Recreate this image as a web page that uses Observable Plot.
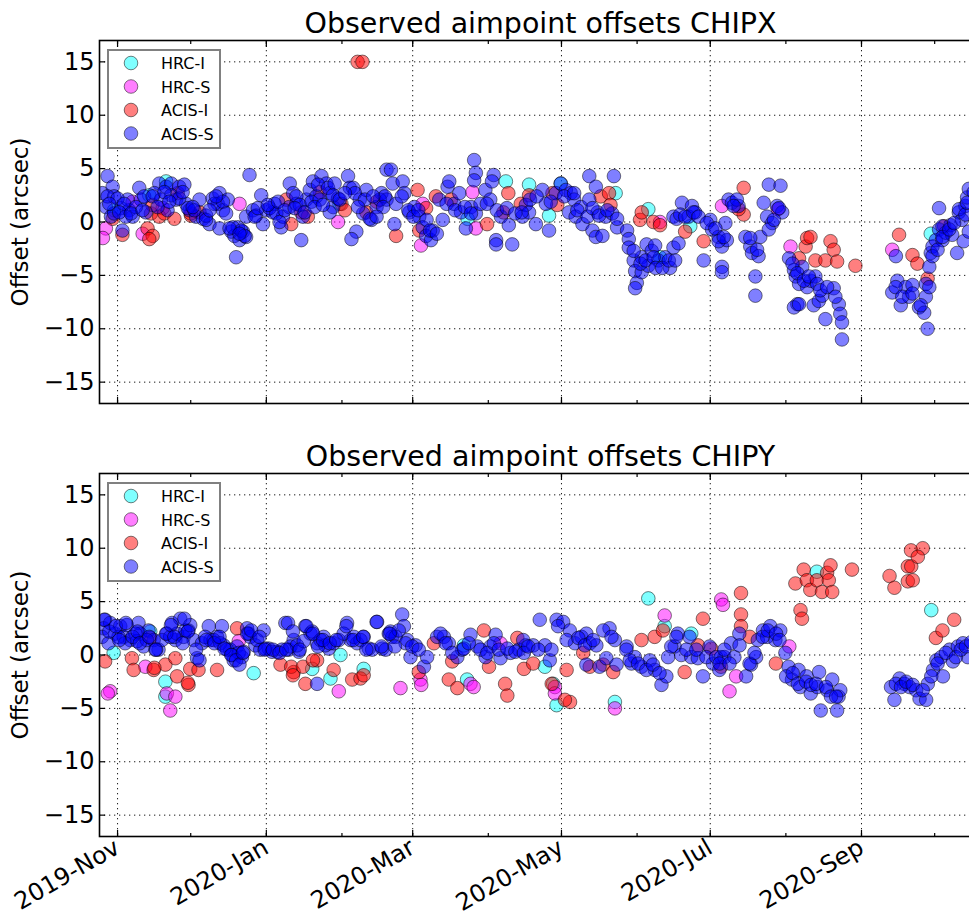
<!DOCTYPE html>
<html>
<head>
<meta charset="utf-8">
<script src="https://cdn.jsdelivr.net/npm/d3@7"></script>
<script src="https://cdn.jsdelivr.net/npm/@observablehq/plot@0.6"></script>
<style>
  html, body { margin: 0; padding: 0; background: #fff; overflow: hidden; }
  #wrap { position: relative; width: 969px; height: 919px; overflow: hidden; background: #fff; }
  .panel { position: absolute; left: 0; max-width: none !important; }
  .legend { position: absolute; }
</style>
</head>
<body>
<div id="wrap"></div>
<script>
// ---------- DATA (day offset from 2019-11-01, offset in arcsec) ----------
const instruments = ["HRC-I", "HRC-S", "ACIS-I", "ACIS-S"];
const instrumentColors = ["#00ffff", "#ff00ff", "#ff0000", "#0000ff"];
const yTickValues = [-15, -10, -5, 0, 5, 10, 15];
const panelTitles = ["Observed aimpoint offsets CHIPX", "Observed aimpoint offsets CHIPY"];
const yLabel = "Offset (arcsec)";
const xRangeDays = [-7.4, 354.2];

const chipxHrcI = [[-1.4,1.1],[19.9,3.8],[13,2.5],[91,1.7],[159.2,3.8],[168.7,3.5],[176.9,0.6],[181.7,3.6],[204.2,2.7],[217.6,1.2],[143.5,0.3],[222.4,-3.3],[333.4,-1.1],[234.8,-0.4]];
const chipxHrcS = [[-4.8,-0.6],[-6,-1.5],[10.3,-1.1],[50,1.7],[90.4,0],[6.2,1.9],[18.5,1.3],[125.1,1.7],[145.5,2.8],[124.4,-2.2],[146.9,-0.6],[222.4,0],[275.9,-2.3],[247.8,1.5],[317.6,-2.6],[270.7,1.2]];
const chipxAcisI = [[13.7,0.8],[12.3,-0.6],[14.4,-1.3],[13,-1.6],[17.1,0.5],[19.2,0.8],[23.3,0.3],[24.7,2.7],[30.1,0.6],[33.6,0.9],[2,-1.2],[-2,0.3],[14.3,1.6],[30,0.8],
  [69.2,2.1],[71.2,-0.2],[75.3,0.9],[78,0.5],[82.9,2.8],[91.8,1.7],[93.2,1.1],[102,0.9],[106.2,1.9],[98.4,15],[100.4,15],
  [114.2,-1.3],[123,3],[126.5,1.3],[123.7,-0.8],[130.5,2.4],[136.7,2.1],[151.5,-0.2],[158.2,0.9],[160.2,2.7],[165.3,1.7],[168.7,2.5],[178.3,2.7],[180.3,1.6],[198.1,2.4],[201.5,2.7],[202.1,1.6],[214.2,0.2],[214.9,0.9],[219.7,0],[222.4,-0.3],
  [256.7,3.2],[256.7,0.7],[254.6,1.2],[240.3,-1.8],[232.7,-0.9],[279.4,-3.4],[282.1,-2.3],[282.7,-1.5],[284.1,-1.4],[286.1,-3.6],[290.2,-3.6],[292.3,-1.8],[293.6,-2.6],[295,-3.7],[302.5,-4.1],[320.4,-1.2],[325.9,-3.1],[327.9,-3.9],[332.1,-5.3],[338.9,-0.4]];
const chipxAcisS = [
  [-4.1,4.3],[-6.2,2.7],[-2,3.3],[-1.4,2.4],[-4.8,1.4],[-2.7,0.5],[2,-0.8],[1.4,1.3],[4.8,1.1],[4.1,2.1],[6.2,0.5],[8.9,3.2],[9.6,2.1],[11.6,0.9],[17.1,3.6],[19.9,3.3],[22,3.6],[25.3,3.3],[27.4,3.5],[24,2.1],[20.5,1.1],[22,2.5],[28.1,1.7],[29.5,1.1],[33.6,2.1],[32.2,0.5],[35,0.3],[37.7,-0.2],[36.3,0.6],[39,2.2],[41.1,1.7],[41.8,2.7],[43.2,1.1],[45.2,2.1],[41.8,-0.6],[46.6,-0.9],[47.9,-1.3],[48.6,-3.3],[50,-1.7],[51.4,-0.9],[52.7,-1.4],[49.3,-0.5],[54.1,4.4],[52.7,0.5],[55.5,1.1],[56.8,0.6],[58.9,2.5],[59.6,-0.2],[61,1.1],[63.7,0.9],[64.4,1.7],[67.1,-0.5],[67.8,0.5],[70.6,3.6],[72,2.7],[70.4,1.4],[73.3,1.7],[75.3,-1.7],[76,0.5],[77.4,2.1],[78.8,3],[80.1,3.8],[81.5,2.4],[83.6,4.3],[85.6,3.6],[87,2.7],[88.4,1.4],[90.4,2.2],[87,0.9],[94.5,4.3],[95.2,3.2],[97.9,-0.9],[95.9,-1.6],[99.3,2.1],[100.7,0.8],[102,3],[104.1,0.2],[106.2,1.4],[108.2,2.7],[110.3,4.9],[110.3,2.1],
  [-4.1,2.4],[0,2.2],[-1.4,0.8],[3.4,0.5],[2.7,1.7],[7.5,1.4],[10.9,2.4],[15.1,2.7],[17.8,2.1],[19.2,2.8],[25.3,2.2],[28.8,1.3],[31.5,1.1],[36.3,0.2],[39.7,1.7],[43.2,1.9],[44.5,0.8],[47.3,-0.5],[50.7,-0.8],[52.1,-1.3],[56.2,0.5],[57.5,1.3],[62.3,1.3],[65.1,0.8],[66.4,0],[73.3,2.4],[74.7,1.6],[79.5,1.9],[82.2,3.5],[82.9,2.1],[86.3,3.2],[89,3.6],[88.4,2.5],[96.6,3.2],[97.3,2.7],[101.4,2.1],[103.4,0.3],[107.5,2.1],[109.6,2.4],
  [-3.4,1.7],[0.7,0.9],[5.5,0.8],[10.3,1.1],[14.4,2.4],[16.4,1.4],[21.2,1.9],[26.7,2.8],[30.8,1.4],[37.7,1.1],[40.4,2.4],[45.9,-0.6],[50,-1.1],[61.6,1.6],[65.8,1.9],[68.5,1.1],[72.6,1.3],[76.7,0.9],[80.8,1.4],[84.2,1.6],[91.1,2.1],[93.2,2.7],[98.6,1.4],[104.8,2.4],[108.9,1.4],[106.2,0.5],
  [112.1,4.9],[112.8,3.6],[116.9,3.8],[117.6,2.7],[114.2,1.7],[113.5,-0.2],[119.6,0.9],[121.7,1.4],[123.7,0.5],[125.1,-0.5],[126.5,-1.3],[128.5,-1.7],[129.2,-0.8],[133.3,0.2],[131.9,2.1],[135.3,3.3],[136,3.8],[138,1.7],[140.1,2.7],[140.8,0.9],[142.8,-0.6],[146.2,5.8],[146.9,4.6],[146.2,3.9],[144.9,1.4],[146.9,0.8],[148.8,1.7],[150.8,3],[152.8,2.1],[154.2,4.4],[153.5,3.8],[155.2,-1.7],[155.2,-2.1],[157.2,0.5],[160.4,-0.3],[161.8,-2.1],[166,0.5],[167.4,1.6],[168.7,0.9],[171.5,-0.2],[174.2,3],[175.6,1.7],[176.9,-0.8],[179.7,2.7],[181.7,3.6],[183.8,3],[185.8,2.7],[187.2,2.1],[185.1,0.9],[187.8,0.5],[190,1.4],[190.6,-0.2],[193.4,4.3],[196.1,3.3],[193.4,2.1],[194.7,-0.8],[196.1,-1.4],[198.8,-1.3],[196.8,0.9],[200.1,0.5],[203.5,4.3],[202.8,0.8],[204.8,-0.5],[208.9,-0.8],[209.6,-1.6],[209.6,-2.4],[211.6,-3.6],[212.2,-4.6],[212.9,-5.7],[212.2,-6.2],[214.9,-3.3],[216.9,-2.1],[219,-2.7],[220.4,-2.2],[221.7,-3.6],[224.5,-3.3],[226.5,-4.3],[227.9,-2.4],[227.9,0.5],[229.2,0.3],[214.9,-4.7],[217.6,-4.1],
  [116.5,2.4],[119.2,1.1],[121.3,0.5],[123.3,1.1],[126.7,0.2],[128.1,-0.8],[130.9,-1.1],[134.9,1.7],[138.4,1.1],[142.4,1.4],[144.9,0.8],[151.4,1.7],[155.5,1.1],[159.6,1.3],[163,0.8],[165.7,0.9],[169.1,2.1],[171.8,2.4],[177.6,1.9],[183.1,2.4],[187.2,2.7],[188.5,1.1],[192.7,0.5],[194.7,1.3],[197.4,0.6],[200.8,1.1],[204.8,0.3],[211.6,-2.7],[214.4,-3.9],[216.5,-3.6],[219.8,-3.3],[220.6,-4.3],[223.3,-4.3],[226,-3.6],[228.6,-3.6],
  [231.4,1.8],[230.7,0.7],[230,-2],[235.5,1.5],[234.1,0.5],[236.8,0.9],[240.3,-3.6],[243,0.2],[243.7,-0.7],[246.4,-1.4],[247.8,-2.3],[247.8,-4.2],[247.8,-4.7],[249.2,-0.1],[249.8,-1.7],[250.5,2.1],[251.9,1.8],[254.6,1.5],[257.4,-1.4],[259.4,-2.3],[260.1,-2.9],[262.8,-3.2],[261.5,-5.1],[261.5,-6.9],[264.9,1.8],[267,3.5],[271.8,3.4],[266.3,0.5],[268.4,-0.1],[270.4,1.5],[263.5,-1.4],[272.5,0.9],[275.3,-3.4],[277.3,-4.5],[278,-5.1],[279.4,-5.8],[278.7,-7.7],[277.3,-8],[280.7,-4.2],[282.7,-6.1],[284.1,-5.5],[286.1,-5.1],[285.4,-7.8],[287.5,-7.4],[288.9,-6.9],[290.2,-9.1],[293.6,-6.2],[295.7,-7.7],[296.3,-8.6],[297,-9.4],[297,-11],[317.6,-6.6],[319.7,-5.5],[321.1,-7.8],[323.1,-6.1],[324.5,-7],[325.9,-5.9],[328.6,-8],[330.7,-8.5],[331.4,-7],[332.1,-10],[331.4,-5.8],[332.8,-4.2],[333.4,-2.9],[334.1,-2.3],[335.5,-1.7],[336.8,-0.7],[336.8,1.3],[338.2,-1.7],[339.5,-1],[341.5,-0.3],[342.2,-1.2],[344.2,-2.9],[344.9,0.9],[346.2,0.2],[346.9,-1.8],[347.6,1.5],[348.3,2.3],[349,3.1],[349,-0.9],[319.1,-3.2],[338.2,-0.4],
  [232.7,0.5],[236.1,0.9],[238.2,0.5],[241.6,-0.1],[245.1,-0.6],[246.4,-1.8],[248.5,-1.4],[253.9,2.1],[252.6,1.5],[259.4,-1.5],[262.2,-2.6],[267,-0.7],[269.1,0.2],[271.2,1.3],[276.7,-3.9],[278.7,-4.8],[281.4,-5.5],[283.4,-5.1],[286.8,-5.8],[288.1,-6.4],[290.9,-6.1],[279.4,-7.7],[294.3,-7],[319,-6.1],[321.7,-7],[325.9,-6.7],[329.3,-7.8],[332.8,-6.1],[334.1,-3.2],[336.2,-2.6],[338.2,-1.4],[341,-0.7],[343,-0.1],[345,1.2],[347.6,0.7],[348.3,1.8],[351,2.8],[353,2.2]];

const chipyHrcI = [[-1.6,0.2],[13.4,2.2],[19.6,-2.5],[19.6,-3.9],[55.8,-1.7],[79.8,-1.3],[87.3,-2.2],[91.4,0],[100.9,-1.3],[143.3,-2.3],[142,0.9],[175.2,-1.1],[178.6,-2.7],[180,-4.7],[217.6,5.3],[224.3,2.7],[235.2,2],[203.9,-4.4],[286.7,7.8],[333.6,4.2]];
const chipyHrcS = [[-3,-3.4],[-4,-3.6],[11.4,-1.1],[20.2,-3.6],[21.6,-5.2],[23.7,-3.9],[49.7,1.3],[90.7,-3.4],[116,-3.1],[124.2,-2.3],[124.5,-2.8],[144.7,-2.7],[146,-3],[157,1.1],[179.3,-3],[179.3,-3.6],[224.3,3.7],[247.5,5.2],[248.2,4.7],[253.6,-2],[250.9,-3.4],[275.4,0.8],[203.9,-5]];
const chipyAcisI = [[-5.1,-0.6],[5.9,-0.3],[6.6,-1.4],[13.4,1.6],[14.8,-1.4],[19.6,-0.9],[23.7,-0.3],[24.4,-2],[29.1,-2.8],[29.8,-1.3],[33.2,-1.4],[40.8,-1.4],[49,2.5],[66.8,-0.9],[72.2,-1.6],[77,-2.7],[81.8,-0.5],[88.6,-1.4],[96.2,-2.3],[99.6,-2.2],[100.9,-1.9],[123.5,-1.6],[129.7,1.1],[135.8,-2.3],[139.3,-3.1],[137.2,-0.6],[150.2,2.3],[152.3,-1.1],[158.9,-2.7],[159.8,-3.8],[163.9,1.6],[166.6,-1.3],
  [71.2,-1.1],[76,-1.1],[80.1,-0.5],[71.9,-1.9],[28.8,-2.6],[15.1,-1.2],
  [170.4,-0.8],[178,-2.7],[184.1,-1.4],[185.5,-4.4],[183.4,-4.2],[190.9,0.2],[193.6,-1.1],[199.1,-0.9],[203.2,-1.6],[214.8,1.4],[220.2,1.7],[223.6,2.3],[232.5,-1.6],[238,0.9],[240,3.4],[243.4,0.6],[247.4,-1.1],[255.6,5.8],[255.6,3.8],[255.6,2.7],[259.2,1.7],[269.9,-0.8],[280,4.2],[280.6,3.4],[277.9,6.7],[281.3,8],[282.6,7],[284,6.1],[286.7,7],[288.8,5.9],[290.9,7.7],[292.3,8.4],[291.6,7],[293,5.9],[301.1,8],[316.5,7.4],[318.5,6.3],[324,6.9],[326,7],[324,8.3],[325.4,8.3],[325.3,9.8],[330.1,10],[328.1,9.2],[335.5,1.6],[338.2,2.3],[343,3.3]];
const chipyAcisS = [
  [-5.1,3.3],[-5.7,2.5],[-3,3],[-1,2],[1.1,2.7],[2.5,1.7],[3.8,2.8],[5.2,1.4],[8.6,3],[9.3,2],[10.7,0.8],[12.7,2.3],[14.8,1.4],[16.8,0.5],[20.2,2],[22.3,3],[23.7,1.4],[25.7,3.4],[27.1,1.7],[29.1,2.3],[31.2,1.4],[32.6,-0.3],[34.6,1.1],[37.4,2.7],[38.1,1.4],[40.8,1.7],[42.8,2.7],[43.5,0.9],[46.2,0.5],[47.6,-0.5],[49,0.8],[51,-0.2],[53.1,2.5],[54.4,1.7],[56.5,0.9],[58.5,0.5],[59.9,2.3],[62,0.6],[65.4,0.3],[68.8,3],[70.2,0.5],[72.2,1.4],[74.3,0.3],[77,2.7],[79.1,2],[81.8,1.1],[81.8,-2.7],[84.5,1.7],[86.6,0.6],[88.6,1.1],[94.1,3],[95.5,1.4],[98.2,1.1],[100.9,1.7],[103,0.6],[106.4,3.1],[108.5,0.6],[111.2,2],[112.6,1.7],[116.7,3.8],[117.4,2.7],[118.8,1.4],[120.1,-0.2],[122.2,0.9],[125.6,-1.1],[126.9,-0.2],[131,1.7],[133.8,1.7],[135.8,1.1],[139.3,-0.2],[141.3,0.5],[144.7,1.9],[147.5,0.8],[150.9,-0.2],[152.9,0.8],[155,1.9],[157,-0.3],[161.1,0.2],[164.5,0.5],[167.3,0.9],
  [-6.4,1.7],[-3.7,1.1],[0.4,1.7],[3.1,1.1],[7.3,2],[8,1.3],[12,1.4],[15.5,0.5],[18.2,1.4],[21.6,1.7],[24.4,2],[27.8,2.3],[29.8,2.8],[35.9,1.7],[39.4,1.4],[42.1,1.1],[44.9,0.5],[47,0],[49.7,0.2],[51.7,0.3],[53.8,2],[57.2,1.4],[60.6,0.6],[63.3,0.3],[67.4,0.5],[70.9,0.8],[73.6,0.9],[76.3,1.3],[79.8,2.2],[83.2,1.4],[85.2,0.9],[90.7,1.4],[92.7,2],[96.9,1.7],[99.6,1.4],[104.4,0.5],[109.9,0.5],[111.9,2.2],[114,1.7],[115.3,2.3],[118.1,1.1],[120.8,0.8],[123.5,0.5],[132.4,2],[134.5,1.1],[137.2,0.2],[142,0.6],[144,1.1],[148.8,0.5],[151.6,0.2],[154.3,1.1],[156.3,0.5],[159.8,0.6],[163.1,0.3],[166.6,0.2],
  [-5.5,3.3],[-3.4,2.2],[-0.7,2.7],[0.7,1.4],[3.4,3],[6.2,1.7],[8.2,2.2],[9.1,1.1],[13,1.7],[15.8,0.5],[19.9,2],[21.9,2.8],[23.3,1.7],[27.4,3.4],[28.8,2.2],[26.7,1.1],[32.2,0.5],[33.6,-0.5],[36.3,1.4],[39.7,1.1],[41.8,1.7],[43.8,0.6],[46.6,0],[48.6,-0.5],[50,-0.9],[51.4,0.2],[53.2,2],[54.8,2.3],[58.2,1.7],[60.3,0.5],[63.7,0.5],[66.4,0.2],[69.9,3],[71.9,2.2],[69.2,0.5],[74.7,0.5],[77.4,2.7],[80.1,2],[82.2,0.8],[84.2,1.4],[87,1.1],[89.7,1.4],[93.8,2.7],[96.6,1.4],[100.7,1.7],[102,0.5],[106.2,3.1],[108.2,0.8],[111.6,2],[113.7,0.8],
  [166.3,1.4],[170.4,0.9],[173.1,3.3],[175.2,0.9],[177.2,-0.5],[180,3.3],[182.7,3.1],[185.4,2.3],[187.5,1.1],[190.2,1.7],[192.2,2],[193.6,1.1],[196.3,0.9],[192.2,-0.9],[197.6,-1.1],[200.4,-0.3],[201.7,2.5],[203.9,1.4],[204.6,-0.9],[208.7,0.8],[210.7,-0.8],[212.1,-0.2],[214.8,-1.1],[218.2,-0.5],[220.3,-1.4],[223,-2.8],[225,-2],[225.7,-0.2],[228.4,0.8],[229.7,2],[231.1,0],[234.5,1.7],[235.2,-0.2],[237.9,-0.3],[240,-2],[242.7,0.8],[244.1,-0.8],[246.7,-1.4],[247.4,-0.2],[248.8,-0.2],[251.5,1.1],[252.9,-0.2],[254.9,2],[257.7,-2],[259.7,-0.9],[261.8,-0.2],[262.5,1.4],[264.6,2.3],[266.3,1.7],[267.6,2.7],[269.7,1.4],[271.7,2.3],[273.8,0.2],[275.1,-1.1],[276.5,-2.3],[279.2,-1.4],[279.9,-3],[282.5,-2],[284.2,-3.6],[286.9,-3],[287.6,-1.6],[288.3,-5.2],[290.9,-3.3],[293,-2.3],[295,-5.2],[295.6,-3.9],[296.3,-3.3],[317.1,-3],[318.5,-4.2],[320.6,-2.2],[322.6,-2.7],[324.7,-3],[327.4,-3.3],[328.8,-4.1],[331.5,-4.2],[332.2,-2.7],[334.3,-1.4],[335.7,-0.5],[337.7,-0.2],[338.4,-2],[341.1,0.5],[342.5,-0.6],[344.5,0.8],[346.6,1.1],[348.6,-0.2],
  [168.4,0.8],[172.5,0.5],[177.9,0.5],[180.6,2.7],[184.1,1.4],[188.9,1.6],[191.6,0.9],[195,1.4],[199.1,2.3],[202.5,1.7],[208.6,0.5],[210,-0.5],[213.4,-0.8],[216.8,-1.4],[219.5,-0.9],[222.2,-1.7],[227,0.8],[229.1,1.7],[233.2,0.5],[237.3,0.5],[241.4,-0.2],[245.4,-0.2],[246.8,-0.8],[248.8,0.5],[250.9,-0.8],[255,0.9],[259.1,-0.8],[261.1,0.2],[264.5,1.7],[266.6,2.3],[270,2],[271.4,1.4],[274.1,-2],[276.8,-1.7],[278.9,-2.7],[282.3,-2.5],[284.3,-2.8],[286.3,-2.7],[290.4,-3],[292.5,-3.9],[294.6,-3.9],[319.1,-2.7],[321.2,-3],[323.3,-2.5],[326,-2.8],[330.1,-3.3],[333.6,-2],[336.2,-0.8],[339.6,0.2],[343.7,-0.2],[345.7,0.5],[347.8,0.8],[350,1.2],[352,0.9]];

const chipxSeries = [chipxHrcI, chipxHrcS, chipxAcisI, chipxAcisS];
const chipySeries = [chipyHrcI, chipyHrcS, chipyAcisI, chipyAcisS];

// ---------- BUILD ----------
const day0 = Date.UTC(2019, 10, 1);
const toDate = d => new Date(day0 + d * 864e5);
const xDomain = xRangeDays.map(toDate);
const majorTicks = d3.utcMonth.every(2).range(xDomain[0], xDomain[1]);
const minorTicks = d3.utcMonth.range(xDomain[0], xDomain[1]);
const FONT = "DejaVu Sans, Bitstream Vera Sans, sans-serif";
const wrap = document.getElementById("wrap");

function panel(title, series, showX, top) {
  const marginBottom = showX ? 83 : 7;
  const dotMarks = series.map((arr, i) =>
    Plot.dot(arr.map(([d, v]) => ({date: toDate(d), value: v})), {
      x: "date", y: "value", r: 6.8,
      fill: instrumentColors[i], fillOpacity: 0.5,
      stroke: "#000", strokeOpacity: 0.5, strokeWidth: 1, clip: true
    })
  );
  const chart = Plot.plot({
    width: 1000, height: 403 + marginBottom,
    marginLeft: 99, marginRight: 19, marginTop: 40, marginBottom,
    style: {fontFamily: FONT, fontSize: "24px", color: "#000", background: "transparent", overflow: "visible", maxWidth: "none"},
    x: {type: "utc", domain: xDomain},
    y: {domain: [-17, 17]},
    marks: [
      Plot.gridX({ticks: majorTicks, stroke: "#000", strokeOpacity: 0.9, strokeWidth: 1, strokeDasharray: "1.3,3.7"}),
      Plot.gridY({ticks: yTickValues, stroke: "#000", strokeOpacity: 0.9, strokeWidth: 1, strokeDasharray: "1.3,3.7"}),
      ...dotMarks,
      Plot.frame({stroke: "#000", strokeWidth: 1.6}),
      Plot.axisY({ticks: yTickValues, tickSize: 0, tickPadding: 5, fontSize: 24,
        label: null}),
      Plot.axisY({ticks: [], tickSize: 0, fontSize: 23,
        label: yLabel, labelAnchor: "center", labelArrow: "none", labelOffset: 88}),
      Plot.axisY({ticks: yTickValues, tickSize: 6, dx: 6, text: null, label: null, strokeWidth: 1.2}),
      Plot.axisX({anchor: "bottom", ticks: majorTicks, tickSize: 6, dy: -6, text: null, label: null, strokeWidth: 1.2}),
      Plot.axisX({anchor: "bottom", ticks: minorTicks, tickSize: 3, dy: -3, text: null, label: null, strokeWidth: 1.2}),
      Plot.axisX({anchor: "top", ticks: majorTicks, tickSize: 6, dy: 6, text: null, label: null, strokeWidth: 1.2}),
      Plot.axisX({anchor: "top", ticks: minorTicks, tickSize: 3, dy: 3, text: null, label: null, strokeWidth: 1.2}),
      showX
        ? Plot.axisX({anchor: "bottom", ticks: majorTicks, tickSize: 0, tickPadding: 9, tickRotate: -30,
            tickFormat: d3.utcFormat("%Y-%b"), fontSize: 24, label: null})
        : Plot.axisX({anchor: "bottom", ticks: [], label: null}),
      Plot.text([title], {text: d => d, frameAnchor: "top", dy: -8, lineAnchor: "bottom", fontSize: 28.5})
    ]
  });
  chart.classList.add("panel");
  chart.style.top = top + "px";
  wrap.appendChild(chart);

  // legend box
  const lg = d3.create("svg").attr("class", "legend")
    .attr("width", 114).attr("height", 100)
    .style("left", "107px").style("top", (top + 49) + "px");
  lg.append("rect").attr("x", 1).attr("y", 1).attr("width", 112).attr("height", 98)
    .attr("fill", "#fff").attr("stroke", "#808080").attr("stroke-width", 2);
  instruments.forEach((name, i) => {
    const cy = 14 + i * 23.5;
    lg.append("circle").attr("cx", 24).attr("cy", cy).attr("r", 6.8)
      .attr("fill", instrumentColors[i]).attr("fill-opacity", 0.5)
      .attr("stroke", "#000").attr("stroke-opacity", 0.5);
    lg.append("text").attr("x", 54).attr("y", cy + 6).text(name)
      .attr("font-family", FONT).attr("font-size", 16).attr("fill", "#000");
  });
  wrap.appendChild(lg.node());
}

panel(panelTitles[0], chipxSeries, false, 0);
panel(panelTitles[1], chipySeries, true, 433);
</script>
</body>
</html>
